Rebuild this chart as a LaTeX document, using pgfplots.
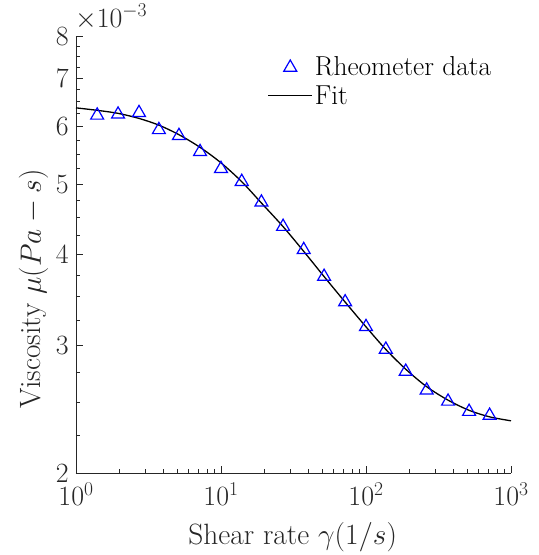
\RequirePackage{fix-cm}
\documentclass[border=0pt]{standalone}
\usepackage{pgfplots}
\pgfplotsset{compat=1.18}
\definecolor{axgray}{rgb}{0.15,0.15,0.15}
\pgfplotsset{
  markleg/.style={legend image code/.code={\path[draw=none] (0bp,0bp) -- (44bp,0bp); \draw[##1, only marks] plot coordinates {(22bp,-1bp)};}},
  lineleg/.style={legend image code/.code={\draw[##1] (0bp,0bp) -- (44bp,0bp);}},
}
\begin{document}
\begin{tikzpicture}
\useasboundingbox (-76bp,-82bp) rectangle (463bp,473bp);
\begin{axis}[
  at={(0,0)}, anchor=south west,
  scale only axis, width=435bp, height=437bp,
  xmode=log, ymode=log,
  xmin=1, xmax=1000, ymin=0.002, ymax=0.008,
  axis lines*=left,
  clip=false,
  tick align=inside,
  xtick={1,10,100,1000},
  ytick={0.002,0.003,0.004,0.005,0.006,0.007,0.008},
  yticklabels={2,3,4,5,6,7,8},
  minor ytick={0.00225,0.0025,0.00275,0.00325,0.0035,0.00375,0.00425,0.0045,0.00475,0.00525,0.0055,0.00575,0.00625,0.0065,0.00675,0.00725,0.0075,0.00775},
  major tick length=7bp, minor tick length=4.5bp,
  every tick/.style={color=axgray, line width=0.8bp},
  axis line style={color=axgray, line width=0.8bp},
  ticklabel style={font=\fontsize{28}{33}\selectfont, text=axgray},
  yticklabel style={anchor=east, inner sep=0pt, xshift=-7bp},
  xticklabel style={anchor=north, inner sep=0pt, yshift=-10bp},
  xlabel={Shear rate $\gamma(1/s)$},
  ylabel={Viscosity $\mu(Pa-s)$},
  label style={font=\fontsize{29.5}{35}\selectfont, text=axgray},
  xlabel style={at={(rel axis cs:0.498,-0.1625)}, anchor=base},
  ylabel style={at={(rel axis cs:-0.0805,0.421)}, anchor=base},
  legend style={draw=none, fill=none, at={(rel axis cs:0.44,0.9588)}, anchor=north west,
    font=\fontsize{27.5}{33}\selectfont, inner sep=0pt, row sep=5bp,
    nodes={inner sep=2bp}},
  legend cell align=left,
]
\addplot[only marks, mark=triangle, mark size=7.5, color=blue, line width=1.2bp, markleg]
coordinates {
(1.40,0.00622) (1.95,0.00624) (2.72,0.00627) (3.73,0.00594) (5.13,0.00583)
(7.17,0.00554) (10.0,0.00525) (13.9,0.00504) (19.0,0.00472) (26.8,0.00437)
(37.2,0.00406) (51.4,0.00373) (71.8,0.00344) (100,0.00318) (137,0.00296)
(188,0.00276) (262,0.00260) (368,0.00251) (514,0.00243) (712,0.00240)
};
\addlegendentry{Rheometer data}
\addplot[smooth, color=black, line width=1.3bp, lineleg]
coordinates {
(1,0.00637) (1.40,0.00632) (1.95,0.00626) (2.72,0.00616) (3.73,0.00603)
(5.13,0.00585) (7.17,0.00562) (10.0,0.00535) (13.9,0.00504) (19.0,0.00471)
(26.8,0.00437) (37.2,0.00404) (51.4,0.00373) (71.8,0.00344) (100,0.00318)
(137,0.00296) (188,0.00278) (262,0.00263) (368,0.00252) (514,0.00244)
(712,0.00239) (1000,0.00236)
};
\addlegendentry{Fit}
\node[anchor=base west, font=\fontsize{28}{33}\selectfont, text=axgray, inner sep=0pt]
  at (rel axis cs:0,1) [xshift=-1bp, yshift=9bp] {$\times10^{-3}$};
\end{axis}
\end{tikzpicture}
\end{document}
